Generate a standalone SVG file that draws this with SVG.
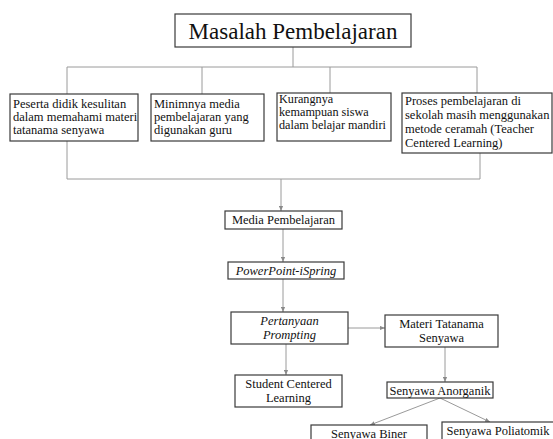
<svg xmlns="http://www.w3.org/2000/svg" width="553" height="439" viewBox="0 0 553 439">
<style>
.box{fill:#fff;stroke:#3a3a3a;stroke-width:1.2}
text{font-family:'Liberation Serif',serif;font-size:12.5px;fill:#111}
.c{text-anchor:middle}
.i{font-style:italic}
.ln{fill:none;stroke:#9a9a9a;stroke-width:1}
</style>
<defs>
<marker id="ah" viewBox="0 0 6 6" refX="6" refY="3" markerWidth="5" markerHeight="5" orient="auto">
<path d="M0,0.5 L6,3 L0,5.5 z" fill="#8a8a8a"/>
</marker>
</defs>
<rect width="553" height="439" fill="#fff"/>
<g id="connectors">
<path class="ln" d="M293,47 V67 M67,94 V67 H477 V93 M202,67 V94 M330,67 V93"/>
<path class="ln" d="M67,141 V179 H480 V153"/>
<path class="ln" d="M281,179 V211" marker-end="url(#ah)"/>
<path class="ln" d="M283,229 V262" marker-end="url(#ah)"/>
<path class="ln" d="M283,279 V312" marker-end="url(#ah)"/>
<path class="ln" d="M348,328 H385" marker-end="url(#ah)"/>
<path class="ln" d="M286,344 V375" marker-end="url(#ah)"/>
<path class="ln" d="M445,347 V382" marker-end="url(#ah)"/>
<path class="ln" d="M440,398 L370,425" marker-end="url(#ah)"/>
<path class="ln" d="M440,398 L490,422" marker-end="url(#ah)"/>
</g>
<g id="masalah">
<rect class="box" x="175" y="14" width="236" height="33"/>
<text class="c" x="293" y="39" style="font-size:23px">Masalah Pembelajaran</text>
</g>
<g id="p1">
<rect class="box" x="10" y="94" width="128" height="47"/>
<text x="13" y="108">Peserta didik kesulitan</text>
<text x="13" y="121">dalam memahami materi</text>
<text x="13" y="134">tatanama senyawa</text>
</g>
<g id="p2">
<rect class="box" x="151" y="94" width="113" height="47"/>
<text x="154" y="108">Minimnya media</text>
<text x="154" y="121">pembelajaran yang</text>
<text x="154" y="134">digunakan guru</text>
</g>
<g id="p3">
<rect class="box" x="277" y="93" width="114" height="48"/>
<text x="279" y="103" style="font-size:12.2px">Kurangnya</text>
<text x="279" y="116" style="font-size:12.2px">kemampuan siswa</text>
<text x="279" y="129" style="font-size:12.2px">dalam belajar mandiri</text>
</g>
<g id="p4">
<rect class="box" x="402" y="93" width="150" height="60"/>
<text x="405" y="105">Proses pembelajaran di</text>
<text x="405" y="119">sekolah masih menggunakan</text>
<text x="405" y="133">metode ceramah (Teacher</text>
<text x="405" y="147">Centered Learning)</text>
</g>
<g id="media">
<rect class="box" x="225" y="211" width="117" height="18"/>
<text class="c" x="283.5" y="224">Media Pembelajaran</text>
</g>
<g id="ppt">
<rect class="box" x="228" y="262" width="116" height="17"/>
<text class="c i" x="286" y="275">PowerPoint-iSpring</text>
</g>
<g id="pertanyaan">
<rect class="box" x="231" y="312" width="117" height="32"/>
<text class="c i" x="289.5" y="325">Pertanyaan</text>
<text class="c i" x="289.5" y="339">Prompting</text>
</g>
<g id="materi">
<rect class="box" x="385" y="315" width="113" height="32"/>
<text class="c" x="441.5" y="328">Materi Tatanama</text>
<text class="c" x="441.5" y="342">Senyawa</text>
</g>
<g id="student">
<rect class="box" x="235" y="375" width="107" height="32"/>
<text class="c" x="288.5" y="388">Student Centered</text>
<text class="c" x="288.5" y="402">Learning</text>
</g>
<g id="anorganik">
<rect class="box" x="387" y="382" width="106" height="16"/>
<text class="c" x="440" y="394.5">Senyawa Anorganik</text>
</g>
<g id="biner">
<rect class="box" x="311" y="425" width="116" height="20"/>
<text class="c" x="369" y="437.5">Senyawa Biner</text>
</g>
<g id="poliatomik">
<rect class="box" x="442" y="422" width="115" height="22"/>
<text class="c" x="498" y="435">Senyawa Poliatomik</text>
</g>
</svg>
